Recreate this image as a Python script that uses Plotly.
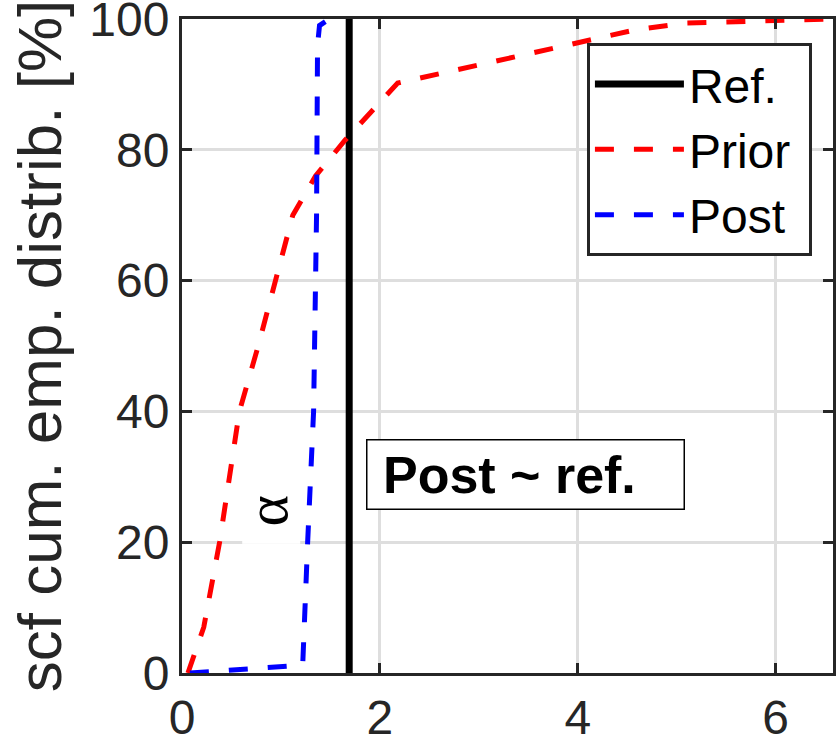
import plotly.graph_objects as go

# ---- data ----
prior_x = [0.06, 0.22, 0.38, 0.58, 0.77, 1.12, 1.35, 1.65, 2.18, 4.1, 4.6, 5.1, 6.6]
prior_y = [0, 7, 20, 40, 50, 70, 76, 81.5, 90.2, 96.7, 98.4, 99.4, 100]
post_x = [0.08, 1.22, 1.27, 1.33, 1.36, 1.37, 1.39, 1.45]
post_y = [0, 1.2, 20, 40, 70, 96, 99.0, 99.6]
ref_x = [1.69, 1.69]
ref_y = [0, 100]
x_ticks = [0, 2, 4, 6]
y_ticks = [0, 20, 40, 60, 80, 100]
x_range = [0, 6.58]
y_range = [0, 100.001]

FONT = "Liberation Sans, Arial, Helvetica, sans-serif"
AX = "#262626"
GRID = "#dedede"

fig = go.Figure()
fig.add_trace(go.Scatter(x=ref_x, y=ref_y, mode="lines", name="Ref.",
                         line=dict(color="black", width=7)))
fig.add_trace(go.Scatter(x=prior_x, y=prior_y, mode="lines", name="Prior&nbsp;",
                         line=dict(color="#ff0000", width=5, dash="19px,20px")))
fig.add_trace(go.Scatter(x=post_x, y=post_y, mode="lines", name="Post",
                         line=dict(color="#0000ff", width=5, dash="19px,20px")))

fig.update_layout(
    width=838, height=745,
    margin=dict(l=182, r=5, t=19, b=72, autoexpand=False),
    paper_bgcolor="white", plot_bgcolor="white",
    font=dict(family=FONT, size=48, color=AX),
    showlegend=True,
    legend=dict(x=0.622, y=0.963, xanchor="left", yanchor="top",
                bgcolor="white", bordercolor=AX, borderwidth=3,
                font=dict(family=FONT, size=48, color="black"),
                itemwidth=89, tracegroupgap=0),
    xaxis=dict(range=x_range, tickvals=x_ticks, ticks="inside", ticklen=10,
               tickwidth=3, tickcolor=AX, showline=True, linecolor=AX,
               linewidth=3, mirror="ticks", showgrid=True, gridcolor=GRID,
               gridwidth=3, zeroline=False, automargin=False,
               ticklabeloverflow="allow",
               tickfont=dict(family=FONT, size=48, color=AX)),
    yaxis=dict(range=y_range, tickvals=y_ticks, ticks="inside", ticklen=10,
               tickwidth=3, tickcolor=AX, showline=True, linecolor=AX,
               linewidth=3, mirror="ticks", showgrid=True, gridcolor=GRID,
               gridwidth=3, zeroline=False, automargin=False,
               ticklabeloverflow="allow",
               tickfont=dict(family=FONT, size=48, color=AX),
               title=dict(text="scf cum. emp. distrib. [%]", standoff=8,
                          font=dict(family=FONT, size=62, color=AX))),
)

fig.add_annotation(x=3.47, y=30.3, xref="x", yref="y",
                   text="&nbsp;<b>Post ~ ref.</b>", showarrow=False,
                   font=dict(family=FONT, size=52, color="black"),
                   bgcolor="white", bordercolor="black", borderwidth=1.5,
                   borderpad=1, width=314, height=66, align="left",
                   xanchor="center", yanchor="middle")

fig.add_annotation(x=0.90, y=24.8, xref="x", yref="y",
                   text="α", showarrow=False, textangle=-90,
                   font=dict(family="Liberation Serif, Times New Roman, serif",
                             size=60, color="black"),
                   bgcolor="white", borderwidth=0, borderpad=0,
                   width=66, height=58, valign="bottom")

fig.write_html("out.html", config={"displayModeBar": False},
               post_script="document.body.style.margin='0px';document.body.style.overflow='hidden';")
